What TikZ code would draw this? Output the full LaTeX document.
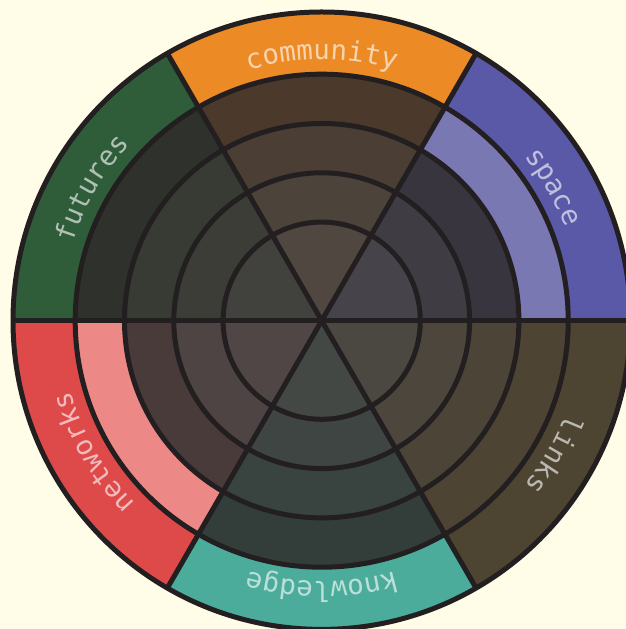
\documentclass[tikz,border=0pt]{standalone}
\usepackage{fontspec}
\usepackage{xcolor}
\usepackage{tikz}
\usetikzlibrary{decorations.text}
\newfontfamily\labelfont{DejaVu Sans Mono}
\newcommand\lbl{\labelfont\fontsize{27.5}{30}\selectfont}
\definecolor{paper}{HTML}{FFFDE8}
\definecolor{ink}{HTML}{231F20}
\definecolor{spaceband}{HTML}{5A59A7}
\definecolor{communityband}{HTML}{EC8A25}
\definecolor{futuresband}{HTML}{2F5D3A}
\definecolor{networksband}{HTML}{DE4A4A}
\definecolor{knowledgeband}{HTML}{4BAC9B}
\definecolor{linksband}{HTML}{4D4431}

\begin{document}
\begin{tikzpicture}[
      x=1pt, y=1pt,
      grid/.style={draw=ink, line width=5pt},
      tag/.style 2 args={decorate,
                         decoration={text along path, text align=center,
                                     text color=white!62!#1, text={|\lbl|#2}}}
    ]
      \useasboundingbox[fill=paper] (0,0) rectangle (626,629);
      \clip (0,0) rectangle (626,629);
      \begin{scope}[shift={(321.7,308.3)}]
        %% wedges, outer band first, then rings inwards
        \foreach \a/\cols in {
            0/{5A59A7,7A78B3,38353F,403C44,47434A},
            60/{EC8A25,4B3A2B,4B3E34,4C433B,4F4740},
            120/{2F5D3A,2F322C,383A34,3D3D38,41423D},
            180/{DE4A4A,EC8987,4A3B3B,4F4444,504646},
            240/{4BAC9B,333E3B,394340,3E4542,444845},
            300/{4D4431,4D4433,4C4537,4C463C,4B4841}} {
          \foreach \c [count=\k] in \cols {
            \pgfmathsetmacro\r{{308.7,246.5,197.2,147.9,98.6}[\k-1]}
            \definecolor{cell}{HTML}{\c}
            \fill[cell] (0,0) -- (\a:\r)
              arc[start angle=\a, delta angle=60, radius=\r] -- cycle;
          }
        }
        %% rings and spokes
        \foreach \r in {98.6,147.9,197.2,246.5,308.7}
          \draw[grid] (0,0) circle[radius=\r];
        \foreach \a in {0,60,...,300}
          \draw[grid] (0,0) -- (\a:308.7);
        %% labels along the outer band
        \path[tag={spaceband}{space}]
          (60:261) arc[start angle=60, end angle=0, radius=261];
        \path[tag={communityband}{community}]
          (120:261) arc[start angle=120, end angle=60, radius=261];
        \path[tag={futuresband}{futures}]
          (180:261) arc[start angle=180, end angle=120, radius=261];
        \path[tag={networksband}{networks}]
          (240:261) arc[start angle=240, end angle=180, radius=261];
        \path[tag={knowledgeband}{knowledge}]
          (300:261) arc[start angle=300, end angle=240, radius=261];
        \path[tag={linksband}{links}]
          (360:261) arc[start angle=360, end angle=300, radius=261];
      \end{scope}
    \end{tikzpicture}
\end{document}
